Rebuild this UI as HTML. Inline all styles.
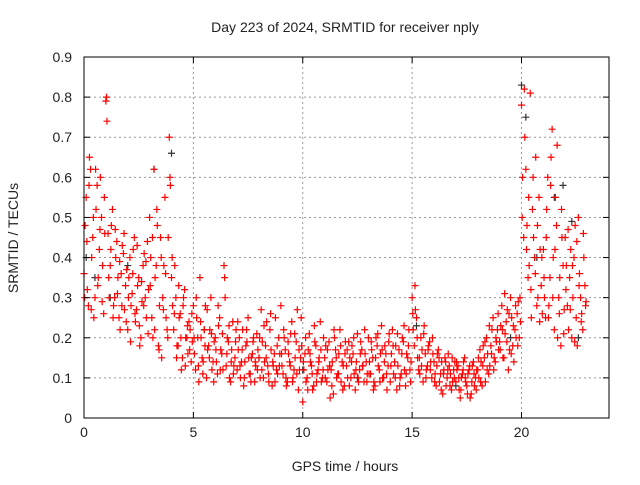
<!DOCTYPE html>
<html><head><meta charset="utf-8"><style>
body{margin:0;background:#fff}
svg text{font-family:"Liberation Sans",sans-serif;font-size:14px;fill:#222}
</style></head><body>
<svg id="chart" width="640" height="480" xmlns="http://www.w3.org/2000/svg">
<rect width="640" height="480" fill="#fff"/>
<g id="grid"></g><g id="black"></g><g id="red"></g><g id="axes"></g>
<text x="345" y="32" text-anchor="middle">Day 223 of 2024, SRMTID for receiver nply</text>
<text x="345" y="471" text-anchor="middle">GPS time / hours</text>
<text transform="translate(18,238) rotate(-90)" text-anchor="middle">SRMTID / TECUs</text>
</svg>
<script>
const xTicks=[0,5,10,15,20];
const yTicks=[0,0.1,0.2,0.3,0.4,0.5,0.6,0.7,0.8,0.9];
const yTickLabels=["0","0.1","0.2","0.3","0.4","0.5","0.6","0.7","0.8","0.9"];
const startHourA=0, startHourB=0.05, startHourC=0.03, stepHour=0.1;
const redA=[.36,.55,.28,.62,.45,.30,.58,.42,.50,.26,.79,.46,.38,.52,.30,.44,.25,.36,.41,.33,.22,.40,.31,.45,.27,.35,.20,.38,.30,.44,.50,.25,.62,.38,.18,.45,.30,.55,.22,.70,.35,.22,.30,.18,.26,.15,.32,.20,.24,.14,.28,.12,.20,.35,.15,.22,.10,.18,.30,.14,.20,.11,.25,.16,.38,.13,.19,.09,.24,.15,.12,.20,.14,.08,.18,.25,.11,.16,.09,.21,.15,.27,.10,.18,.13,.22,.08,.16,.12,.20,.28,.11,.17,.09,.14,.24,.12,.19,.07,.15,.04,.16,.10,.21,.13,.08,.18,.12,.24,.10,.15,.09,.19,.12,.06,.17,.11,.22,.14,.08,.13,.19,.10,.16,.07,.21,.12,.17,.09,.14,.20,.11,.15,.08,.18,.12,.23,.10,.16,.13,.09,.22,.14,.07,.17,.11,.19,.08,.15,.12,.30,.18,.25,.12,.20,.09,.16,.13,.19,.10,.14,.08,.17,.11,.06,.15,.10,.13,.07,.12,.09,.13,.05,.11,.15,.08,.12,.06,.14,.10,.12,.17,.08,.15,.20,.11,.18,.25,.14,.22,.19,.28,.15,.24,.12,.30,.18,.22,.26,.20,.78,.45,.62,.35,.81,.52,.40,.28,.55,.33,.42,.25,.60,.35,.72,.22,.48,.30,.18,.38,.45,.28,.35,.20,.40,.25,.50,.30,.22,.33];
const redB=[.48,.32,.65,.40,.25,.52,.35,.60,.38,.46,.74,.30,.48,.28,.40,.35,.22,.43,.27,.37,.35,.28,.42,.24,.33,.18,.29,.41,.25,.32,.40,.20,.35,.48,.28,.15,.38,.25,.45,.58,.28,.38,.18,.25,.12,.30,.20,.16,.22,.19,.16,.25,.09,.20,.14,.28,.17,.22,.12,.19,.14,.23,.17,.12,.30,.20,.10,.17,.13,.22,.17,.10,.22,.14,.19,.11,.15,.20,.13,.17,.10,.19,.14,.24,.09,.17,.13,.25,.11,.16,.13,.20,.08,.16,.21,.10,.15,.27,.12,.18,.12,.09,.17,.14,.07,.19,.11,.15,.09,.20,.18,.12,.05,.14,.20,.10,.16,.09,.13,.19,.10,.15,.18,.11,.14,.09,.19,.13,.16,.11,.14,.17,.09,.20,.13,.16,.10,.18,.07,.21,.16,.11,.18,.13,.10,.20,.12,.16,.22,.14,.22,.27,.15,.11,.17,.23,.12,.18,.14,.16,.11,.16,.09,.14,.12,.08,.16,.11,.09,.14,.12,.07,.10,.14,.09,.11,.05,.13,.08,.12,.10,.14,.18,.09,.16,.13,.22,.15,.19,.17,.23,.15,.21,.27,.17,.25,.14,.20,.29,.24,.60,.70,.48,.38,.25,.45,.65,.30,.42,.26,.30,.52,.28,.65,.40,.55,.20,.35,.45,.27,.38,.22,.42,.30,.48,.18,.36,.26,.40,.29];
const redC=[.30,.44,.58,.27,.50,.62,.33,.47,.29,.55,.80,.35,.42,.25,.47,.31,.39,.28,.46,.24,.30,.19,.36,.26,.43,.23,.34,.28,.39,.21,.33,.45,.22,.52,.17,.40,.27,.36,.20,.60,.40,.26,.15,.33,.20,.28,.13,.23,.17,.26,.20,.30,.13,.24,.11,.18,.27,.15,.21,.09,.17,.28,.12,.21,.35,.16,.23,.14,.11,.19,.24,.13,.17,.10,.22,.15,.09,.19,.14,.12,.20,.12,.23,.15,.11,.26,.14,.09,.18,.13,.16,.22,.10,.19,.13,.09,.21,.11,.17,.25,.14,.20,.07,.16,.11,.23,.09,.14,.17,.12,.10,.17,.13,.08,.22,.15,.11,.18,.07,.16,.17,.08,.14,.20,.12,.10,.16,.13,.22,.09,.11,.19,.07,.15,.21,.09,.17,.14,.11,.19,.13,.18,.10,.21,.08,.16,.23,.11,.18,.09,.26,.33,.20,.15,.13,.21,.10,.17,.12,.20,.09,.13,.15,.07,.11,.14,.12,.08,.15,.10,.14,.10,.07,.12,.10,.06,.13,.09,.11,.07,.15,.09,.13,.19,.12,.23,.16,.12,.20,.26,.17,.22,.31,.19,.26,.16,.23,.28,.18,.30,.50,.82,.42,.55,.32,.60,.36,.48,.24,.40,.35,.45,.25,.58,.30,.42,.68,.26,.52,.21,.32,.47,.27,.38,.19,.44,.33,.24,.46,.28];
const blackT=[0.1,0.5,1.2,2.0,3.2,4.0,5.5,8,10,12.5,15.2,17,19.5,20,20.2,20.7,21.5,21.9,22.3,22.6];
const blackV=[.40,.35,.30,.38,.62,.66,.22,.15,.12,.10,.23,.08,.20,.83,.75,.40,.55,.58,.49,.20];
const L=84,R=609,T=57,B=418,NS="http://www.w3.org/2000/svg";
const xS=h=>L+h*(R-L)/24, yS=v=>B-v*(B-T)/0.9;
function mk(tag,attrs,parent){const e=document.createElementNS(NS,tag);for(const k in attrs)e.setAttribute(k,attrs[k]);document.getElementById(parent).appendChild(e);return e;}
xTicks.forEach(t=>{const x=xS(t);
 if(t>0){const g=mk('line',{x1:x,x2:x,y1:T,y2:B,stroke:'#999','stroke-dasharray':'2,3'},'grid');}
 mk('line',{x1:x,x2:x,y1:B,y2:B-6,stroke:'#000'},'axes');mk('line',{x1:x,x2:x,y1:T,y2:T+6,stroke:'#000'},'axes');
 const tx=mk('text',{x:x,y:B+19,'text-anchor':'middle'},'axes');tx.textContent=t;
 
 });
yTicks.forEach((v,i)=>{const y=yS(v);
 if(i>0&&i<yTicks.length-1){const g=mk('line',{x1:L,x2:R,y1:y,y2:y,stroke:'#999','stroke-dasharray':'2,3'},'grid');}
 mk('line',{x1:L,x2:L+6,y1:y,y2:y,stroke:'#000'},'axes');mk('line',{x1:R,x2:R-6,y1:y,y2:y,stroke:'#000'},'axes');
 const tx=mk('text',{x:L-12,y:y+5,'text-anchor':'end'},'axes');tx.textContent=yTickLabels[i];
 
 });
const fr=mk('rect',{x:L,y:T,width:R-L,height:B-T,fill:'none',stroke:'#000'},'axes');


function plus(h,v,col,g,name){const x=xS(h),y=yS(v);
 const p=mk('path',{d:`M${x-3.5},${y}h7M${x},${y-3.5}v7`,stroke:col,'stroke-width':1.2},g);
 
 }
blackT.forEach((t,i)=>plus(t,blackV[i],'#333','black','black-point'));
redA.forEach((v,i)=>plus(startHourA+i*stepHour,v,'#f00','red','red-point'));
redB.forEach((v,i)=>plus(startHourB+i*stepHour,v,'#f00','red','red-point'));
redC.forEach((v,i)=>plus(startHourC+i*stepHour,v,'#f00','red','red-point'));
</script>
</body></html>
